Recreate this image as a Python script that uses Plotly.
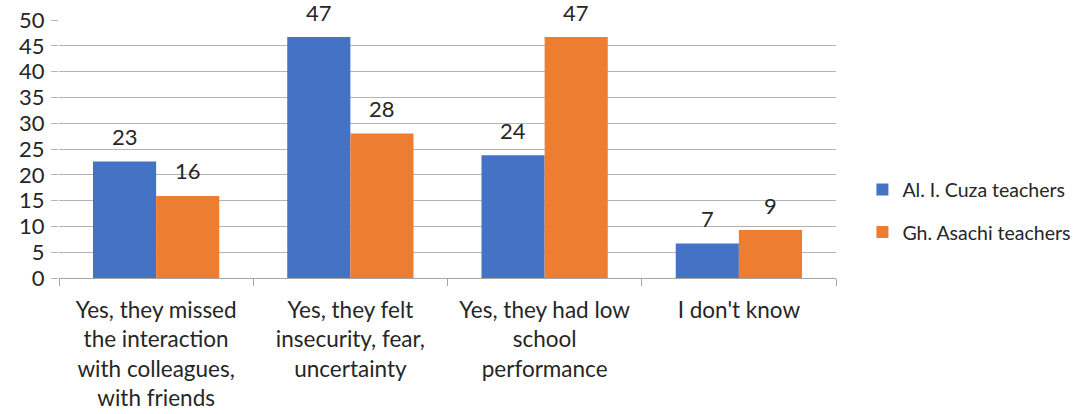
import plotly.graph_objects as go

categories = [
    "Yes, they missed<br>the interaction<br>with colleagues,<br>with friends",
    "Yes, they felt<br>insecurity, fear,<br>uncertainty",
    "Yes, they had low<br>school<br>performance",
    "I don't know",
]
cuza_values = [22.6, 46.7, 23.8, 6.7]
asachi_values = [15.9, 28.0, 46.7, 9.3]
cuza_labels = ["23", "47", "24", "7"]
asachi_labels = ["16", "28", "47", "9"]
series_names = ["Al. I. Cuza teachers", "Gh. Asachi teachers"]
y_ticks = list(range(0, 51, 5))

BLUE = "#4472C4"
ORANGE = "#ED7D31"
FONT = "Lato"
TXT = "#262626"

fig = go.Figure()
fig.add_trace(go.Bar(x=categories, y=cuza_values, name=series_names[0],
                     marker=dict(color=BLUE, line=dict(width=0)), legendgroup="a"))
fig.add_trace(go.Bar(x=categories, y=asachi_values, name=series_names[1],
                     marker=dict(color=ORANGE, line=dict(width=0)), legendgroup="b"))

bar_px = 63
for cat, v, t in zip(categories, cuza_values, cuza_labels):
    fig.add_annotation(x=cat, y=v, text=t, showarrow=False, xshift=-bar_px / 2,
                       yshift=25, yanchor="middle", font=dict(size=22, color=TXT, family=FONT))
for cat, v, t in zip(categories, asachi_values, asachi_labels):
    fig.add_annotation(x=cat, y=v, text=t, showarrow=False, xshift=bar_px / 2,
                       yshift=25, yanchor="middle", font=dict(size=22, color=TXT, family=FONT))

fig.update_layout(
    width=1078, height=414,
    margin=dict(l=59, r=242, t=20, b=136, autoexpand=False),
    paper_bgcolor="white", plot_bgcolor="white",
    barmode="group", bargap=0.35, bargroupgap=0,
    font=dict(family=FONT, size=20, color=TXT),
    legend=dict(x=1.034, y=0.26, xanchor="left", yanchor="middle",
                traceorder="grouped", tracegroupgap=14,
                font=dict(size=19.5, color=TXT, family=FONT), bgcolor="rgba(0,0,0,0)"),
    xaxis=dict(type="category", showgrid=False, showline=True, linecolor="#A6A6A6",
               linewidth=1.2, ticks="outside", tickson="boundaries", ticklen=7,
               tickcolor="#A6A6A6", tickwidth=1.2, ticklabelstandoff=12,
               tickfont=dict(size=22.5, color=TXT, family=FONT)),
    yaxis=dict(range=[0, 50], tickvals=y_ticks, showgrid=True, gridcolor="#B4B4B4",
               gridwidth=1.2, zeroline=False, showline=False, ticks="outside",
               ticklen=7, tickcolor="#B4B4B4", tickwidth=1.2, ticklabelstandoff=2,
               tickfont=dict(size=22, color=TXT, family=FONT)),
)

fig.write_html("out.html")
